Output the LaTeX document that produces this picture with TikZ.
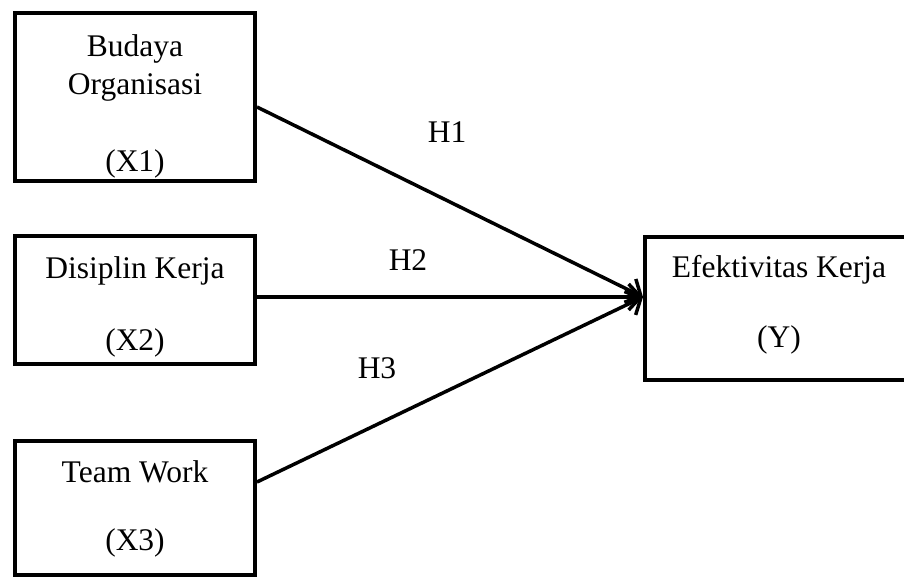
\documentclass[tikz,border=0pt]{standalone}
\usepackage{fontspec}
\setmainfont{Liberation Serif}
\usepackage{tikz}
\usetikzlibrary{calc,arrows.meta}
\def\varnode{\node[draw,line width=4pt,minimum width=240pt]}

\begin{document}
\begin{tikzpicture}[x=1pt,y=-1pt,font=\fontsize{31.5}{38}\selectfont,
  txt/.style={align=center},
  hyp/.style={line width=3.5pt,-{Straight Barb[length=12pt,width=26pt]}}]
\useasboundingbox (0,0) rectangle (904,579);
\varnode[minimum height=168pt] (x1) at (135,97) {};
\varnode[minimum height=128pt] (x2) at (135,300) {};
\varnode[minimum height=134pt] (x3) at (135,508) {};
\varnode[minimum width=268pt,minimum height=143pt] (y) at (779,308.5) {};
\node[txt] (x1txt) at (135,106) {Budaya\\Organisasi\\[39pt](X1)};
\node[txt] (x2txt) at (135,307) {Disiplin Kerja\\[34pt](X2)};
\node[txt] (x3txt) at (135,509) {Team Work\\[30pt](X3)};
\node[txt] (ytxt) at (779,305) {Efektivitas Kerja\\[32pt](Y)};
\coordinate (hub) at ([yshift=11.5pt]y.west);
\node (h1) at (447,132) {H1};
\node (h2) at (408,260) {H2};
\node (h3) at (377,368) {H3};
\draw[hyp] ([yshift=-10pt]x1.east) -- (hub);
\draw[hyp] ([yshift=3pt]x2.east) -- (hub);
\draw[hyp] ([yshift=26pt]x3.east) -- (hub);
\end{tikzpicture}
\end{document}
